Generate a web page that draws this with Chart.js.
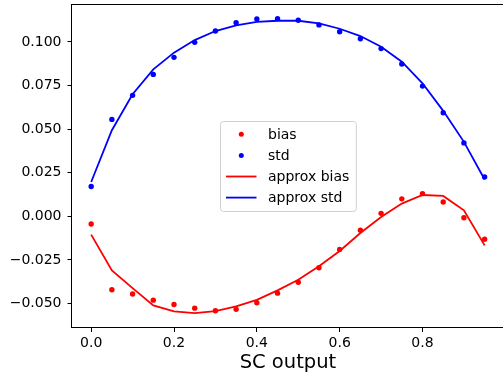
<!DOCTYPE html>
<html>
<head>
<meta charset="utf-8">
<script src="https://cdn.jsdelivr.net/npm/chart.js@4.4.0/dist/chart.umd.min.js"></script>
<style>
body { margin: 0; overflow: hidden; background: #fff; }
#holder { position: absolute; left: 0; top: 0; width: 507px; height: 382px; }
</style>
</head>
<body>
<div id="holder"><canvas id="biasChart" width="507" height="382"></canvas></div>
<script>
// values
var scOutput = [0.0, 0.05, 0.1, 0.15, 0.2, 0.25, 0.3, 0.35, 0.4, 0.45, 0.5, 0.55, 0.6, 0.65, 0.7, 0.75, 0.8, 0.85, 0.9, 0.95];
var bias = [-0.0044, -0.0421, -0.0446, -0.0481, -0.0506, -0.0527, -0.0542, -0.0534, -0.0496, -0.0441, -0.0378, -0.0295, -0.0190, -0.0080, 0.0017, 0.0100, 0.0130, 0.0082, -0.0008, -0.0132];
var std = [0.0171, 0.0556, 0.0694, 0.0814, 0.0912, 0.0998, 0.1063, 0.1111, 0.1132, 0.1134, 0.1125, 0.1098, 0.1059, 0.1019, 0.0962, 0.0874, 0.0747, 0.0594, 0.0421, 0.0226];
var approxBias = [-0.0105, -0.0310, -0.0412, -0.0511, -0.0546, -0.0556, -0.0544, -0.0517, -0.0479, -0.0425, -0.0364, -0.0287, -0.0199, -0.0096, -0.0004, 0.0073, 0.0122, 0.0117, 0.0034, -0.0167];
var approxStd = [0.0197, 0.0494, 0.0700, 0.0843, 0.0939, 0.1011, 0.1063, 0.1096, 0.1115, 0.1122, 0.1122, 0.1107, 0.1076, 0.1034, 0.0973, 0.0887, 0.0763, 0.0605, 0.0427, 0.0211];
var xTicks = [0.0, 0.2, 0.4, 0.6, 0.8];
var yTicks = [-0.050, -0.025, 0.000, 0.025, 0.050, 0.075, 0.100];
var labels = ["bias", "std", "approx bias", "approx std"];
var cols = ["#ff0000", "#0000ff"];

var FONT = "'DejaVu Sans', sans-serif";

function pts(ys)
{
	var out = [];
	for (var i = 0; i < scOutput.length; i++)
	{
		out.push({x: scOutput[i], y: ys[i]});
	}
	return out;
}

function minusSign(s)
{
	return s.replace("-", "\u2212");
}

// draws the top spine and the legend in the middle of the axes
var framePlugin = {
	id: "frame",
	afterDraw: function(chart)
	{
		var ctx = chart.ctx;
		var a = chart.chartArea;
		ctx.save();
		ctx.strokeStyle = "#000";
		ctx.lineWidth = 1;
		ctx.beginPath();
		ctx.moveTo(a.left, a.top + 0.5);
		ctx.lineTo(a.right, a.top + 0.5);
		ctx.stroke();

		ctx.font = "14px " + FONT;
		var maxW = 0;
		for (var i = 0; i < labels.length; i++)
		{
			maxW = Math.max(maxW, ctx.measureText(labels[i]).width);
		}
		var w = 5.5 + 30.5 + 11.5 + maxW + 7;
		var h = 90;
		var cx = (a.left + a.right) / 2;
		var cy = (a.top + a.bottom) / 2;
		var x0 = Math.round(cx - w / 2) + 0.5;
		var y0 = Math.round(cy - h / 2) + 0.5;

		ctx.beginPath();
		ctx.roundRect(x0, y0, w, h, 3);
		ctx.fillStyle = "rgba(255,255,255,0.8)";
		ctx.fill();
		ctx.strokeStyle = "#d0d0d0";
		ctx.stroke();

		ctx.textBaseline = "middle";
		ctx.textAlign = "left";
		for (var i = 0; i < labels.length; i++)
		{
			var ry = y0 + 12.8 + i * 21.1;
			var col = cols[i % 2];
			if (i < 2)
			{
				ctx.beginPath();
				ctx.arc(x0 + 5.5 + 15.3, ry, 2.5, 0, Math.PI * 2);
				ctx.fillStyle = col;
				ctx.fill();
			}
			else
			{
				ctx.beginPath();
				ctx.moveTo(x0 + 5.5, ry);
				ctx.lineTo(x0 + 36, ry);
				ctx.strokeStyle = col;
				ctx.lineWidth = 1.8;
				ctx.stroke();
			}
			ctx.fillStyle = "#000";
			ctx.fillText(labels[i], x0 + 47.5, ry + 1);
		}
		ctx.restore();
	}
};

new Chart("biasChart", {
	type: "scatter",
	data: {
		datasets: [
			{ label: labels[0], data: pts(bias), showLine: false, pointRadius: 2.7, pointHoverRadius: 2.7, pointBorderWidth: 0, backgroundColor: cols[0], borderColor: cols[0], order: 2 },
			{ label: labels[1], data: pts(std), showLine: false, pointRadius: 2.7, pointHoverRadius: 2.7, pointBorderWidth: 0, backgroundColor: cols[1], borderColor: cols[1], order: 2 },
			{ label: labels[2], data: pts(approxBias), showLine: true, pointRadius: 0, borderWidth: 1.8, borderColor: cols[0], backgroundColor: cols[0], tension: 0, order: 1 },
			{ label: labels[3], data: pts(approxStd), showLine: true, pointRadius: 0, borderWidth: 1.8, borderColor: cols[1], backgroundColor: cols[1], tension: 0, order: 1 }
		]
	},
	options: {
		responsive: false,
		animation: false,
		devicePixelRatio: 1,
		layout: { padding: { top: 4, right: 2, left: 0, bottom: 0 } },
		plugins: {
			legend: { display: false },
			tooltip: { enabled: false }
		},
		scales: {
			x: {
				type: "linear",
				min: -0.0475,
				max: 0.9975,
				grid: { drawOnChartArea: false, drawTicks: true, tickLength: 4.5, tickColor: "#000", tickWidth: 1 },
				border: { display: true, color: "#000", width: 1 },
				ticks: {
					color: "#000",
					padding: 3,
					font: { family: FONT, size: 14 },
					maxRotation: 0,
					callback: function(v) { return minusSign(v.toFixed(1)); }
				},
				title: { display: true, text: "SC output", color: "#000", font: { family: FONT, size: 19.5 }, padding: { top: 0, bottom: 7 } },
				afterBuildTicks: function(scale) { scale.ticks = xTicks.map(function(v) { return {value: v}; }); },
				afterFit: function(scale) { scale.height = 54.5; scale.paddingLeft = 0; scale.paddingRight = 0; }
			},
			y: {
				type: "linear",
				min: -0.0638,
				max: 0.1218,
				grid: { drawOnChartArea: false, drawTicks: true, tickLength: 4, tickColor: "#000", tickWidth: 1 },
				border: { display: true, color: "#000", width: 1 },
				ticks: {
					color: "#000",
					padding: 6,
					font: { family: FONT, size: 14 },
					callback: function(v) { return minusSign(v.toFixed(3)); }
				},
				afterBuildTicks: function(scale) { scale.ticks = yTicks.map(function(v) { return {value: v}; }); },
				afterFit: function(scale) { scale.width = 71.5; scale.paddingTop = 0; scale.paddingBottom = 0; }
			}
		}
	},
	plugins: [framePlugin]
});
</script>
</body>
</html>
